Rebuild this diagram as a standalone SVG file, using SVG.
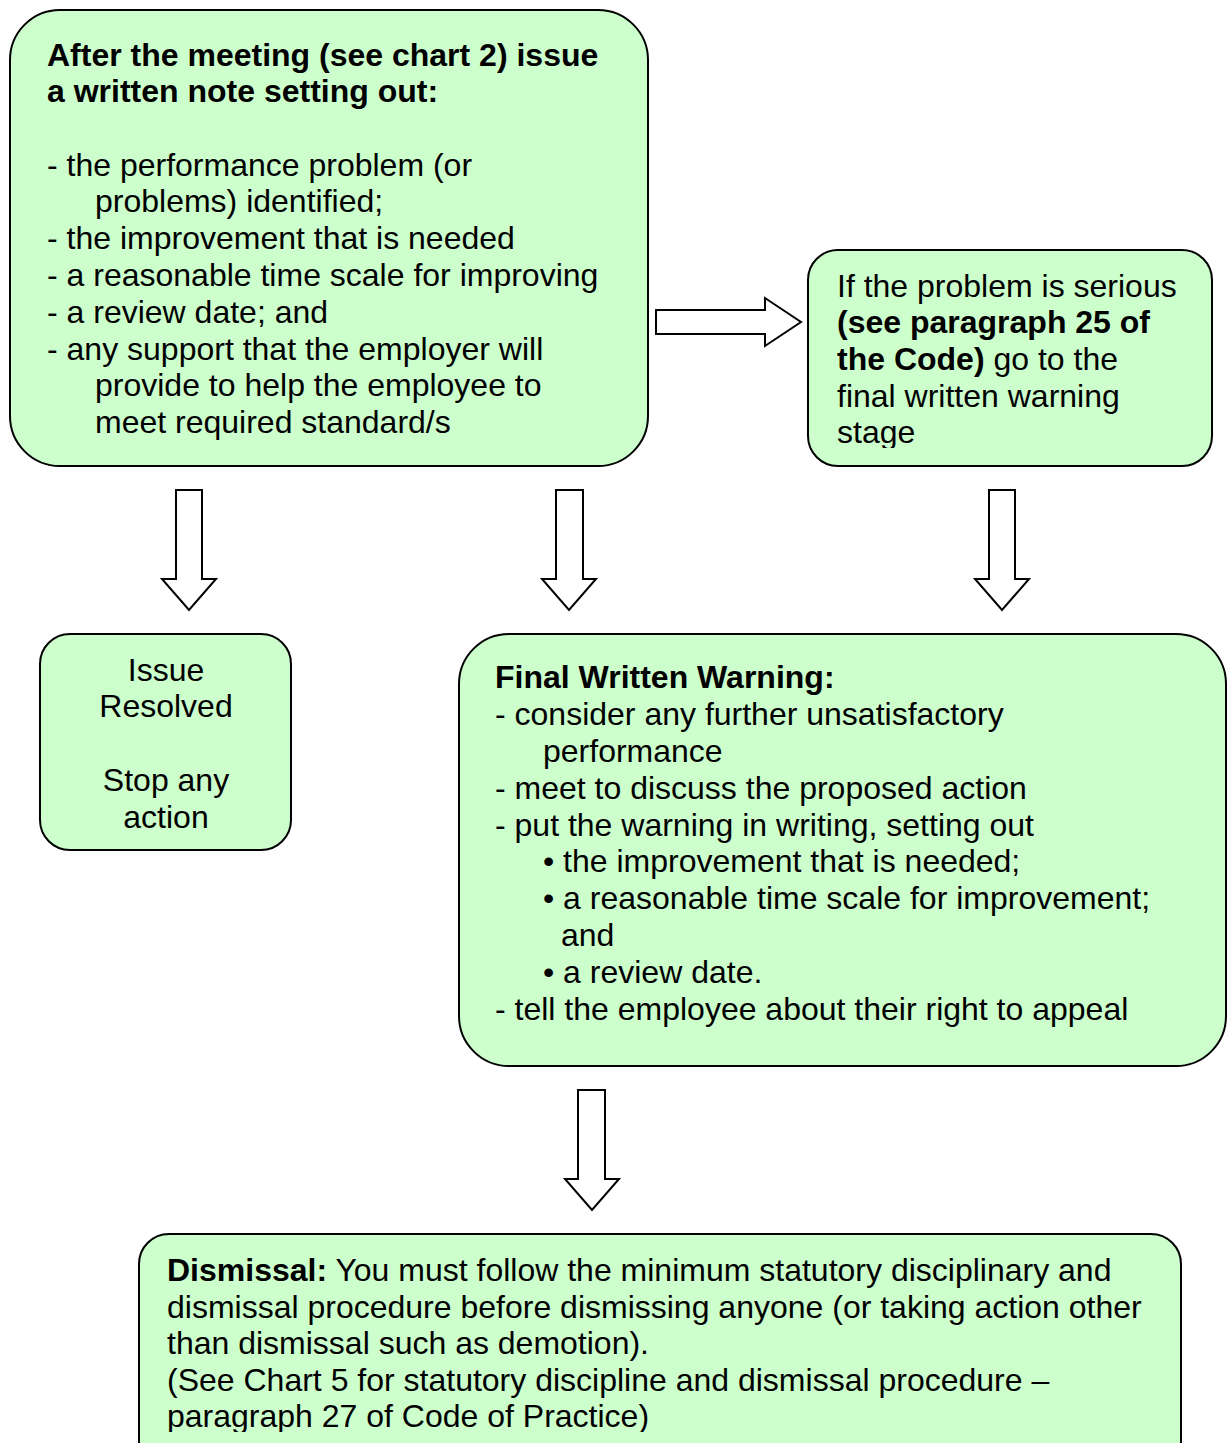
<svg xmlns="http://www.w3.org/2000/svg" width="1229" height="1443" viewBox="0 0 1229 1443">
  <style>
    .box { fill: #ccffcc; stroke: #000; stroke-width: 2; }
    .arrow { fill: #fff; stroke: #000; stroke-width: 2; stroke-linejoin: miter; }
    text { font-family: "Liberation Sans", Arial, Helvetica, sans-serif; font-size: 32px; fill: #000; }
    .b { font-weight: bold; }
    .c { text-anchor: middle; }
  </style>
  <defs>
    <clipPath id="clip-serious"><rect x="808" y="250" width="404" height="198"/></clipPath>
    <clipPath id="clip-dismissal"><rect x="139" y="1234" width="1042" height="198"/></clipPath>
  </defs>
  <rect width="1229" height="1443" fill="#fff"/>

  <g id="connectors">
    <!-- block arrow: note -> serious problem -->
    <path class="arrow" d="M656,310 H765 V298 L801,322 L765,346 V334 H656 Z"/>
    <!-- block arrow: note -> issue resolved -->
    <path class="arrow" d="M176,490 H202 V579 H216 L189,610 L162,579 H176 Z"/>
    <!-- block arrow: note -> final written warning -->
    <path class="arrow" d="M556,490 H583 V579 H596 L569,610 L542,579 H556 Z"/>
    <!-- block arrow: serious problem -> final written warning -->
    <path class="arrow" d="M989,490 H1015 V579 H1029 L1002,610 L975,579 H989 Z"/>
    <!-- block arrow: final written warning -> dismissal -->
    <path class="arrow" d="M578,1090 H605 V1179 H619 L592,1210 L565,1179 H578 Z"/>
  </g>

  <g id="node-written-note">
    <rect class="box" x="10" y="10" width="638" height="456" rx="50" ry="50"/>
    <text class="b" x="47" y="66">After the meeting (see chart 2) issue</text>
    <text class="b" x="47" y="102">a written note setting out:</text>
    <text x="47" y="176">- the performance problem (or</text>
    <text x="95" y="212">problems) identified;</text>
    <text x="47" y="249">- the improvement that is needed</text>
    <text x="47" y="286">- a reasonable time scale for improving</text>
    <text x="47" y="323">- a review date; and</text>
    <text x="47" y="360">- any support that the employer will</text>
    <text x="95" y="396">provide to help the employee to</text>
    <text x="95" y="433">meet required standard/s</text>
  </g>

  <g id="node-serious">
    <rect class="box" x="808" y="250" width="404" height="216" rx="30" ry="30"/>
    <g clip-path="url(#clip-serious)">
      <text x="837" y="297">If the problem is serious</text>
      <text class="b" x="837" y="333">(see paragraph 25 of</text>
      <text x="837" y="370"><tspan class="b">the Code)</tspan> go to the</text>
      <text x="837" y="407">final written warning</text>
      <text x="837" y="443">stage</text>
    </g>
  </g>

  <g id="node-resolved">
    <rect class="box" x="40" y="634" width="251" height="216" rx="30" ry="30"/>
    <text class="c" x="166" y="681">Issue</text>
    <text class="c" x="166" y="717">Resolved</text>
    <text class="c" x="166" y="791">Stop any</text>
    <text class="c" x="166" y="828">action</text>
  </g>

  <g id="node-final-warning">
    <rect class="box" x="459" y="634" width="767" height="432" rx="50" ry="50"/>
    <text class="b" x="495" y="688">Final Written Warning:</text>
    <text x="495" y="725">- consider any further unsatisfactory</text>
    <text x="543" y="762">performance</text>
    <text x="495" y="799">- meet to discuss the proposed action</text>
    <text x="495" y="836">- put the warning in writing, setting out</text>
    <text x="543" y="872">• the improvement that is needed;</text>
    <text x="543" y="909">• a reasonable time scale for improvement;</text>
    <text x="561" y="946">and</text>
    <text x="543" y="983">• a review date.</text>
    <text x="495" y="1020">- tell the employee about their right to appeal</text>
  </g>

  <g id="node-dismissal">
    <rect class="box" x="139" y="1234" width="1042" height="240" rx="30" ry="30"/>
    <g clip-path="url(#clip-dismissal)">
      <text x="167" y="1281"><tspan class="b">Dismissal:</tspan> You must follow the minimum statutory disciplinary and</text>
      <text x="167" y="1318">dismissal procedure before dismissing anyone (or taking action other</text>
      <text x="167" y="1354">than dismissal such as demotion).</text>
      <text x="167" y="1391">(See Chart 5 for statutory discipline and dismissal procedure –</text>
      <text x="167" y="1427">paragraph 27 of Code of Practice)</text>
    </g>
  </g>
</svg>
